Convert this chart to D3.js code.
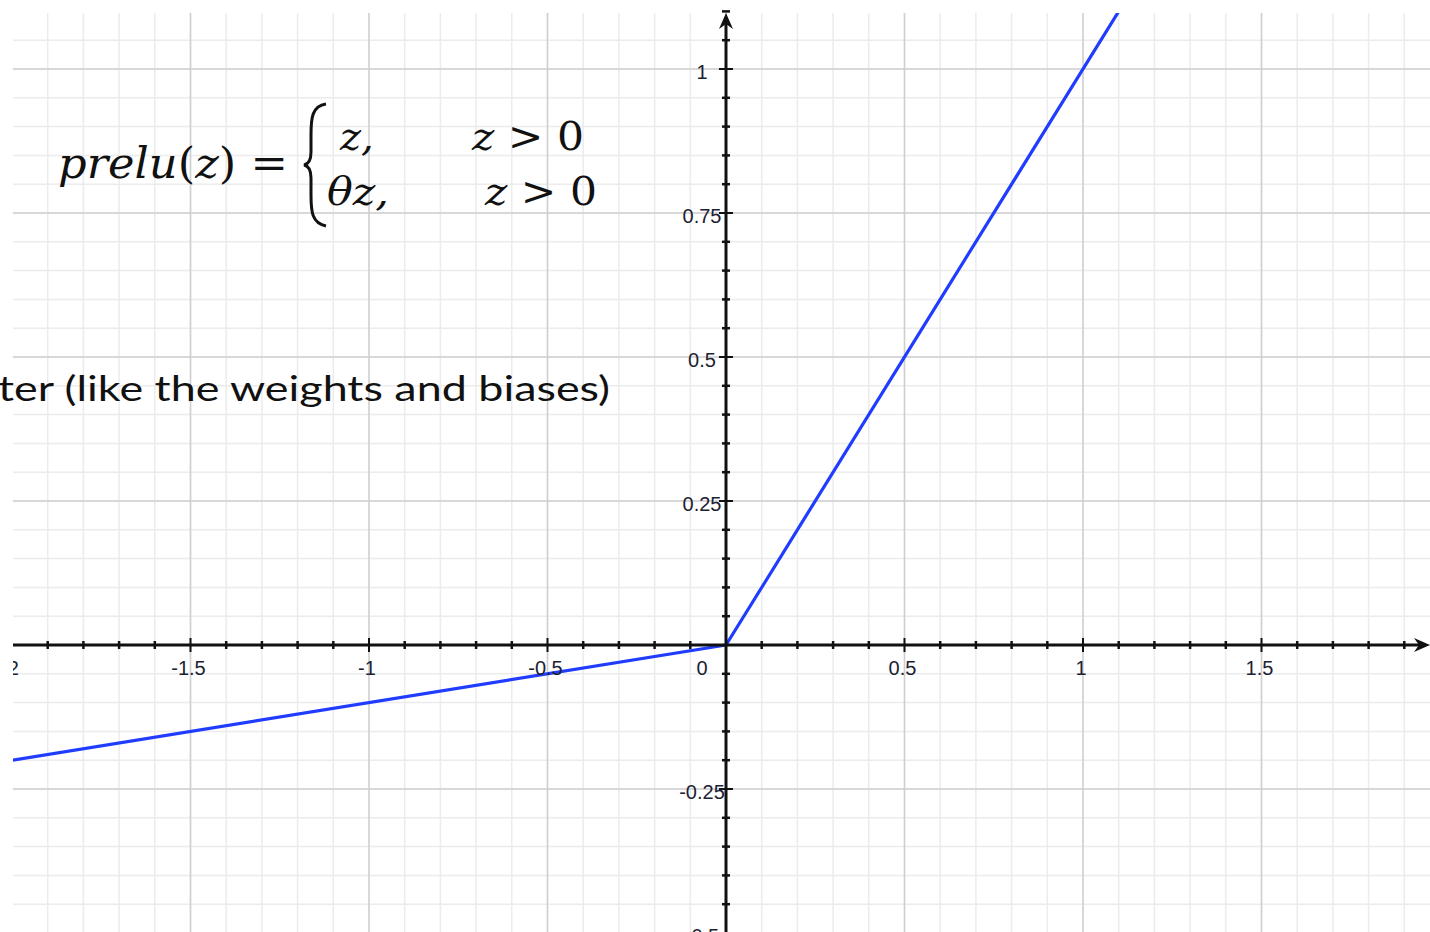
<!DOCTYPE html>
<html>
<head>
<meta charset="utf-8">
<script src="https://cdn.jsdelivr.net/npm/d3@7"></script>
<style>
  body { margin: 0; background: #fff; overflow: hidden; }
</style>
</head>
<body>
<script>
const width = 1430;
const height = 932;

// data
const lineX = [-2, 0, 1.1];
const lineY = [-0.2, 0, 1.1];
const xTickValues = [-2, -1.5, -1, -0.5, 0, 0.5, 1, 1.5];
const xTickLabels = ["-2", "-1.5", "-1", "-0.5", "0", "0.5", "1", "1.5"];
const yTickValues = [-0.5, -0.25, 0.25, 0.5, 0.75, 1];
const yTickLabels = ["-0.5", "-0.25", "0.25", "0.5", "0.75", "1"];

const plot = { left: 13, top: 13, right: 1430, bottom: 932 };

const x = d3.scaleLinear().domain([-2, 2]).range([12, 1440]);
const y = d3.scaleLinear().domain([0, 1]).range([645, 69]);

const svg = d3.select("body").append("svg")
  .attr("width", width)
  .attr("height", height);

svg.append("defs").append("clipPath").attr("id", "clip")
  .append("rect")
  .attr("x", plot.left).attr("y", plot.top)
  .attr("width", plot.right - plot.left).attr("height", plot.bottom - plot.top);

const g = svg.append("g").attr("clip-path", "url(#clip)");

// minor grid
const xMinor = d3.range(-20, 21).map(i => i / 10);
const yMinor = d3.range(-10, 23).map(i => i / 20);

g.selectAll(".vminor").data(xMinor).join("line")
  .attr("x1", d => x(d)).attr("x2", d => x(d))
  .attr("y1", plot.top).attr("y2", plot.bottom)
  .attr("stroke", "#ececec").attr("stroke-width", 1.5);
g.selectAll(".hminor").data(yMinor).join("line")
  .attr("y1", d => y(d)).attr("y2", d => y(d))
  .attr("x1", plot.left).attr("x2", plot.right)
  .attr("stroke", "#ececec").attr("stroke-width", 1.5);

// major grid
g.selectAll(".vmajor").data(xTickValues).join("line")
  .attr("x1", d => x(d)).attr("x2", d => x(d))
  .attr("y1", plot.top).attr("y2", plot.bottom)
  .attr("stroke", "#cfcfcf").attr("stroke-width", 1.5);
g.selectAll(".hmajor").data(yTickValues).join("line")
  .attr("y1", d => y(d)).attr("y2", d => y(d))
  .attr("x1", plot.left).attr("x2", plot.right)
  .attr("stroke", "#cfcfcf").attr("stroke-width", 1.5);

// text behind the chart (cut at the left edge, as in the source)
svg.append("text")
  .attr("x", -2).attr("y", 401)
  .attr("font-family", "Lato, 'Open Sans', sans-serif")
  .attr("font-size", 34)
  .attr("fill", "#111")
  .attr("textLength", 612)
  .attr("lengthAdjust", "spacingAndGlyphs")
  .text("ter (like the weights and biases)");

// formula
const f = svg.append("g")
  .attr("font-family", "'DejaVu Serif', 'Liberation Serif', serif")
  .attr("fill", "#111");
f.append("text").attr("x", 58).attr("y", 178).attr("font-size", 42)
  .attr("textLength", 230).attr("lengthAdjust", "spacingAndGlyphs")
  .html('<tspan font-style="italic">prelu</tspan>(<tspan font-style="italic">z</tspan>) =');
f.append("path")
  .attr("d", "M326,104 C312,106 311,118 311,135 L311,152 C311,160 309,164 304,165 C309,166 311,170 311,178 L311,195 C311,212 312,223 326,226")
  .attr("fill", "none").attr("stroke", "#111").attr("stroke-width", 3);
f.append("text").attr("x", 340).attr("y", 150).attr("font-size", 40).attr("font-style", "italic").text("z,");
f.append("text").attr("x", 472).attr("y", 150).attr("font-size", 40)
  .attr("textLength", 112).attr("lengthAdjust", "spacingAndGlyphs")
  .html('<tspan font-style="italic">z</tspan> &gt; 0');
f.append("text").attr("x", 327).attr("y", 205).attr("font-size", 40).attr("font-style", "italic")
  .attr("textLength", 62).attr("lengthAdjust", "spacingAndGlyphs").text("θz,");
f.append("text").attr("x", 485).attr("y", 205).attr("font-size", 40)
  .attr("textLength", 112).attr("lengthAdjust", "spacingAndGlyphs")
  .html('<tspan font-style="italic">z</tspan> &gt; 0');

// axes
const axes = svg.append("g").attr("stroke", "#111");
axes.append("line")
  .attr("x1", plot.left).attr("x2", plot.right - 4)
  .attr("y1", y(0)).attr("y2", y(0)).attr("stroke-width", 3);
axes.append("line")
  .attr("x1", x(0)).attr("x2", x(0))
  .attr("y1", plot.top + 4).attr("y2", plot.bottom).attr("stroke-width", 3);

// minor ticks
const xMinorTicks = xMinor.filter(d => d > -2 && Math.abs(d * 2 - Math.round(d * 2)) > 1e-6);
const yMinorTicks = yMinor.filter(d => Math.abs(d * 4 - Math.round(d * 4)) > 1e-6);
axes.selectAll(".xmt").data(xMinorTicks).join("line")
  .attr("x1", d => x(d)).attr("x2", d => x(d))
  .attr("y1", y(0) - 4).attr("y2", y(0) + 4).attr("stroke-width", 2.5);
axes.selectAll(".ymt").data(yMinorTicks).join("line")
  .attr("y1", d => y(d)).attr("y2", d => y(d))
  .attr("x1", x(0) - 4).attr("x2", x(0) + 4).attr("stroke-width", 2.5);
// major ticks
axes.selectAll(".xMt").data(xTickValues.filter(d => d !== 0 && d > -2)).join("line")
  .attr("x1", d => x(d)).attr("x2", d => x(d))
  .attr("y1", y(0) - 7).attr("y2", y(0) + 7).attr("stroke-width", 2);
axes.selectAll(".yMt").data(yTickValues).join("line")
  .attr("y1", d => y(d)).attr("y2", d => y(d))
  .attr("x1", x(0) - 7).attr("x2", x(0) + 7).attr("stroke-width", 2);

// arrow heads
svg.append("path")
  .attr("d", `M${x(0)},${plot.top} L${x(0) - 7},${plot.top + 16} L${x(0)},${plot.top + 11} L${x(0) + 7},${plot.top + 16} Z`)
  .attr("fill", "#111");
svg.append("path")
  .attr("d", `M${plot.right},${y(0)} L${plot.right - 16},${y(0) - 7} L${plot.right - 11},${y(0)} L${plot.right - 16},${y(0) + 7} Z`)
  .attr("fill", "#111");

// tick labels
const lab = svg.append("g")
  .attr("clip-path", "url(#clip)")
  .attr("font-family", "'Liberation Sans', Arial, sans-serif")
  .attr("font-size", 20)
  .attr("fill", "#1c2233");
lab.selectAll(".xl").data(xTickValues).join("text")
  .attr("x", d => d === 0 ? x(0) - 24 : x(d) - 2)
  .attr("y", y(0) + 30)
  .attr("text-anchor", "middle")
  .text((d, i) => xTickLabels[i]);
lab.selectAll(".yl").data(yTickValues).join("text")
  .attr("x", x(0) - 24)
  .attr("y", d => y(d) + 10)
  .attr("text-anchor", "middle")
  .text((d, i) => yTickLabels[i]);

// prelu line
const pts = lineX.map((v, i) => [v, lineY[i]]);
g.append("path")
  .datum(pts)
  .attr("d", d3.line().x(d => x(d[0])).y(d => y(d[1])))
  .attr("fill", "none")
  .attr("stroke", "#1f3cff")
  .attr("stroke-width", 3.2)
  .attr("stroke-linejoin", "round");
</script>
</body>
</html>
